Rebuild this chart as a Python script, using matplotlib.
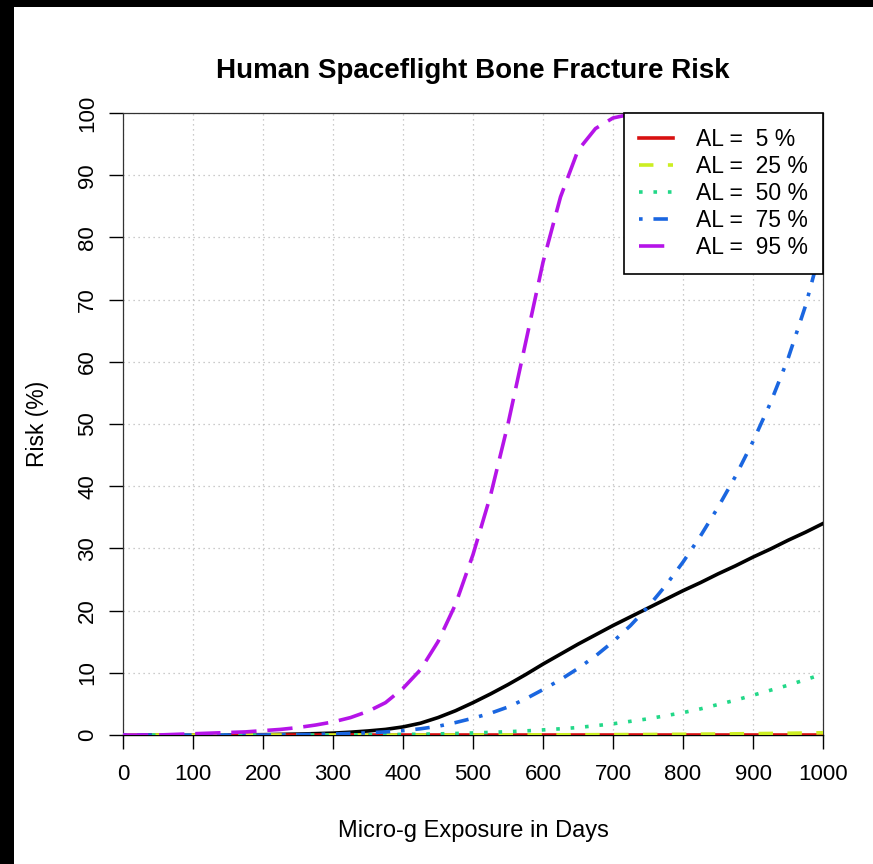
import matplotlib
matplotlib.use("Agg")
import matplotlib.pyplot as plt
from matplotlib.patches import Rectangle

plt.rcParams['font.family'] = ['Liberation Sans', 'DejaVu Sans']

days = [0, 25, 50, 75, 100, 125, 150, 175, 200, 225, 250, 275, 300, 325, 350, 375,
        400, 425, 450, 475, 500, 525, 550, 575, 600, 625, 650, 675, 700, 725, 750,
        775, 800, 825, 850, 875, 900, 925, 950, 975, 1000]

risk_total = [0, 0, 0, 0, 0, 0, 0.02, 0.03, 0.05, 0.1, 0.15, 0.22, 0.3, 0.45, 0.65, 0.9,
              1.3, 1.9, 2.8, 3.9, 5.2, 6.6, 8.1, 9.7, 11.4, 13.0, 14.6, 16.1, 17.6, 19.0, 20.4,
              21.8, 23.2, 24.5, 25.9, 27.2, 28.6, 29.9, 31.3, 32.6, 34.0]

risk_al5 = [0] * 41

risk_al25 = [0, 0, 0, 0, 0, 0, 0, 0, 0, 0, 0, 0, 0, 0, 0, 0,
             0, 0, 0, 0, 0.01, 0.01, 0.02, 0.02, 0.03, 0.03, 0.04, 0.05, 0.06, 0.07, 0.08,
             0.1, 0.12, 0.14, 0.16, 0.19, 0.22, 0.25, 0.28, 0.32, 0.36]

risk_al50 = [0, 0, 0, 0, 0, 0, 0, 0, 0, 0, 0, 0, 0, 0.02, 0.04, 0.06,
             0.1, 0.13, 0.18, 0.25, 0.33, 0.42, 0.53, 0.66, 0.82, 1.0, 1.2, 1.5, 1.8, 2.2, 2.6,
             3.1, 3.6, 4.2, 4.9, 5.6, 6.4, 7.2, 8.0, 8.9, 9.8]

risk_al75 = [0, 0, 0, 0, 0, 0, 0, 0, 0, 0.02, 0.05, 0.1, 0.15, 0.25, 0.35, 0.5,
             0.7, 1.0, 1.4, 2.0, 2.7, 3.5, 4.5, 5.8, 7.3, 8.9, 10.7, 12.7, 15.0, 17.6, 20.6,
             24.0, 27.8, 32.0, 36.6, 41.6, 47.2, 53.4, 60.5, 69.0, 79.5]

risk_al95 = [0, 0, 0, 0.1, 0.2, 0.3, 0.4, 0.5, 0.7, 0.9, 1.2, 1.6, 2.1, 2.8, 3.8, 5.2,
             7.5, 10.5, 15.0, 21.0, 29.0, 38.5, 50.0, 63.0, 76.0, 86.5, 94.0, 97.5, 99.2, 99.8, 100,
             100, 100, 100, 100, 100, 100, 100, 100, 100, 100]

labels = ["AL =  5 %", "AL =  25 %", "AL =  50 %", "AL =  75 %", "AL =  95 %"]
colors = ["#D81010", "#CCEE22", "#22D888", "#1A66E0", "#B514E8"]
dashes = [None, (4, 4), (1, 3), (1, 3, 4, 3), (7, 3)]
xticks = list(range(0, 1001, 100))
yticks = list(range(0, 101, 10))

fig = plt.figure(figsize=(8.73, 8.64), dpi=100)
fig.patch.set_facecolor("white")
fig.patches.append(Rectangle((0, 1 - 7 / 864), 1, 7 / 864, transform=fig.transFigure,
                             facecolor="black", edgecolor="none", zorder=-10))
fig.patches.append(Rectangle((0, 0), 14 / 873, 1, transform=fig.transFigure,
                             facecolor="black", edgecolor="none", zorder=-10))

ax = fig.add_axes([123 / 873, 1 - 735 / 864, 700 / 873, 622 / 864])
ax.set_xlim(0, 1000)
ax.set_ylim(0, 100)

lw = 2.6
ax.plot(days, risk_total, color="black", lw=lw, zorder=3)
series = [risk_al5, risk_al25, risk_al50, risk_al75, risk_al95]
for ys, lab, c, d in zip(series, labels, colors, dashes):
    line, = ax.plot(days, ys, color=c, lw=lw, label=lab, zorder=4)
    if d is not None:
        line.set_dashes(d)

ax.set_xticks(xticks)
ax.set_yticks(yticks)
ax.grid(True, color="#BBBBBB", linestyle=(0, (1, 3)), linewidth=0.9)
ax.tick_params(axis="both", direction="out", length=10, width=1, labelsize=16, colors="black")
ax.tick_params(axis="x", pad=11)
ax.tick_params(axis="y", pad=8)
for lab in ax.get_yticklabels():
    lab.set_rotation(90)
    lab.set_va("center")
for name in ["left", "right", "top"]:
    ax.spines[name].set_linestyle((0, (2, 1)))
    ax.spines[name].set_linewidth(0.9)
    ax.spines[name].set_color("#333333")
ax.spines["bottom"].set_linewidth(1)

ax.set_title("Human Spaceflight Bone Fracture Risk", fontsize=20, fontweight="bold", pad=25)
ax.set_xlabel("Micro-g Exposure in Days", fontsize=17, labelpad=25)
ax.set_ylabel("Risk (%)", fontsize=16.5, labelpad=20)

leg = ax.legend(loc="upper right", frameon=True, fancybox=False, fontsize=16.5,
                borderaxespad=0, handlelength=1.5, handletextpad=1.0,
                labelspacing=0.18, borderpad=0.65)
leg.get_frame().set_edgecolor("black")
leg.get_frame().set_linewidth(1.2)
leg.get_frame().set_alpha(1)

fig.savefig("out.png", dpi=100, facecolor=fig.get_facecolor())
